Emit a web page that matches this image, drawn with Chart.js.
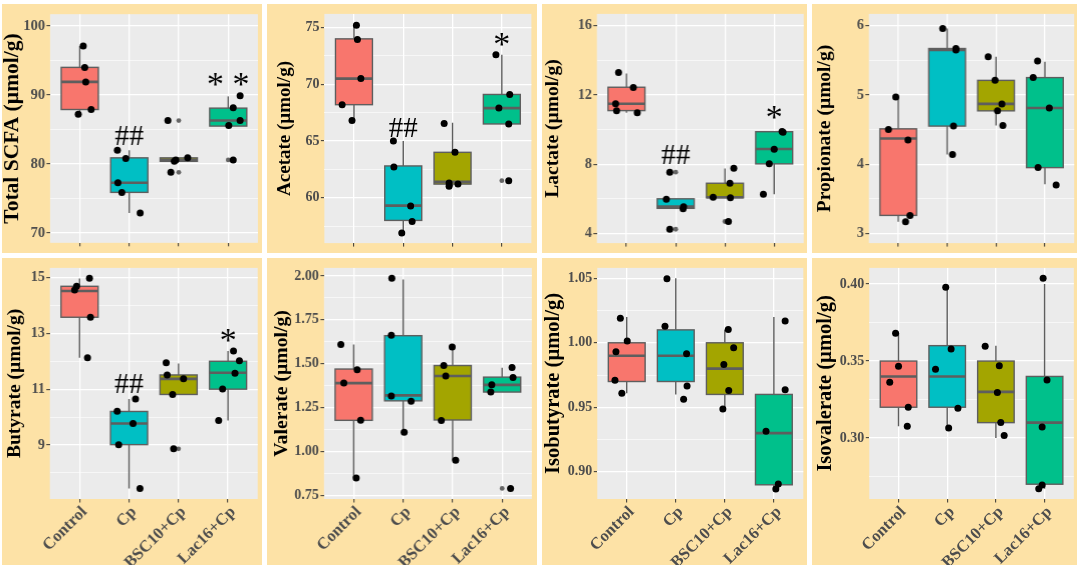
<!DOCTYPE html>
<html lang="en">
<head>
<meta charset="UTF-8">
<title>SCFA boxplots</title>
<script src="https://cdn.jsdelivr.net/npm/chart.js@4.4.1/dist/chart.umd.min.js"></script>
<style>
  body { margin: 0; background: #fff; }
  #fig { position: relative; width: 1084px; height: 570px; background: #fff; overflow: hidden; }
  .panel { position: absolute; background: #fde2a6; }
  .cbox { position: absolute; }
</style>
</head>
<body>
<div id="fig"></div>
<script>
const groups = ['Control', 'Cp', 'BSC10+Cp', 'Lac16+Cp'];
const fills = ['#F8766D', '#00BFC4', '#A3A500', '#00C08B'];

// box stats per group: [lower whisker, q1, median, q3, upper whisker]
// Total SCFA
const scfaTicks = [70, 80, 90, 100];
const scfaRange = [68.6, 101.7];
const scfaPts = [[97.1, 94.0, 91.9, 87.2, 87.9], [82.0, 80.8, 77.3, 75.9, 72.9], [86.3, 78.8, 80.4, 80.9, 80.6], [89.9, 88.15, 86.3, 85.6, 80.6]];
const scfaJit = [[0.07, 0.10, 0.12, -0.03, 0.23], [-0.24, -0.07, -0.23, -0.15, 0.22], [-0.22, -0.16, -0.09, 0.18, -0.06], [0.24, 0.10, 0.24, 0.01, 0.10]];
const scfaBox = [[87.2, 87.9, 91.9, 94.0, 97.1], [72.9, 75.9, 77.3, 80.9, 82.0], [80.4, 80.4, 80.6, 80.9, 80.9], [85.5, 85.5, 86.3, 88.1, 89.8]];
const scfaOut = [[], [], [86.3, 78.8], [80.6]];
const scfaMarks = ['', '##', '', '* *'];
const scfaMarkY = [null, 84.2, null, 92.2];

// Acetate
const acetateTicks = [60, 65, 70, 75];
const acetateRange = [56.0, 76.2];
const acetatePts = [[75.2, 73.95, 70.5, 68.2, 66.8], [65.0, 62.7, 59.27, 57.9, 56.9], [66.55, 64.0, 61.3, 61.0, 61.2], [72.6, 69.1, 67.9, 66.5, 61.5]];
const acetateJit = [[0.05, 0.07, 0.14, -0.24, -0.04], [-0.20, -0.19, 0.15, 0.18, -0.03], [-0.17, 0.05, -0.07, -0.07, 0.11], [-0.12, 0.16, -0.06, 0.14, 0.14]];
const acetateBox = [[66.8, 68.2, 70.5, 74.0, 75.2], [56.9, 58.0, 59.3, 62.8, 65.0], [61.0, 61.2, 61.4, 64.0, 66.6], [66.5, 66.5, 67.9, 69.1, 72.6]];
const acetateOut = [[], [], [], [61.5]];
const acetateMarks = ['', '##', '', '*'];
const acetateMarkY = [null, 66.2, null, 73.9];

// Lactate
const lactateTicks = [4, 8, 12, 16];
const lactateRange = [3.44, 16.69];
const lactatePts = [[13.3, 12.44, 11.5, 11.09, 10.98], [7.54, 5.98, 5.54, 5.43, 4.24], [7.76, 6.9, 6.09, 6.06, 4.69], [9.89, 9.85, 8.87, 8.02, 6.26]];
const lactateJit = [[-0.16, 0.14, -0.22, -0.20, 0.22], [-0.12, -0.19, 0.16, 0.15, -0.12], [0.18, 0.10, -0.24, 0.11, 0.07], [0.16, 0.18, 0.0, -0.10, -0.22]];
const lactateBox = [[10.98, 11.1, 11.5, 12.45, 13.25], [5.45, 5.45, 5.55, 6.0, 6.0], [6.06, 6.06, 6.09, 6.9, 7.75], [6.26, 8.02, 8.88, 9.88, 9.9]];
const lactateOut = [[], [7.54, 4.24], [4.69], []];
const lactateMarks = ['', '##', '', '*'];
const lactateMarkY = [null, 8.55, null, 10.97];

// Propionate
const propionateTicks = [3, 4, 5, 6];
const propionateRange = [2.86, 6.17];
const propionatePts = [[4.97, 4.50, 4.35, 3.26, 3.17], [5.96, 5.65, 5.67, 4.55, 4.14], [5.55, 5.21, 4.87, 4.77, 4.56], [5.49, 5.25, 4.81, 3.95, 3.70]];
const propionateJit = [[-0.05, -0.20, 0.20, 0.24, 0.15], [-0.09, 0.18, 0.18, 0.13, 0.11], [-0.16, -0.02, 0.12, 0.03, 0.14], [-0.15, -0.24, 0.09, -0.14, 0.23]];
const propionateBox = [[3.17, 3.26, 4.37, 4.51, 4.97], [4.14, 4.55, 5.65, 5.67, 5.96], [4.56, 4.77, 4.87, 5.21, 5.55], [3.71, 3.95, 4.81, 5.25, 5.48]];
const propionateOut = [[], [], [], []];

// Butyrate
const butyrateTicks = [9, 11, 13, 15];
const butyrateRange = [7.06, 15.35];
const butyratePts = [[14.98, 14.69, 14.56, 13.58, 12.13], [10.65, 10.21, 9.77, 9.01, 7.44], [11.95, 11.51, 11.37, 10.81, 8.86], [12.37, 12.02, 11.57, 11.01, 9.88]];
const butyrateJit = [[0.20, -0.06, -0.10, 0.22, 0.16], [0.13, -0.24, 0.08, -0.21, 0.22], [-0.25, -0.23, 0.10, -0.12, -0.10], [0.11, 0.23, 0.14, -0.11, -0.19]];
const butyrateBox = [[12.13, 13.58, 14.52, 14.69, 14.97], [7.44, 9.01, 9.77, 10.2, 10.65], [10.81, 10.81, 11.37, 11.51, 11.92], [9.88, 11.0, 11.59, 12.0, 12.37]];
const butyrateOut = [[], [], [8.86], []];
const butyrateMarks = ['', '##', '', '*'];
const butyrateMarkY = [null, 11.19, null, 12.92];

// Valerate
const valerateTicks = [0.75, 1.00, 1.25, 1.50, 1.75, 2.00];
const valerateRange = [0.73, 2.046];
const valeratePts = [[1.61, 1.466, 1.39, 1.178, 0.85], [1.987, 1.662, 1.317, 1.287, 1.11], [1.596, 1.49, 1.43, 1.177, 0.95], [1.479, 1.422, 1.38, 1.339, 0.79]];
const valerateJit = [[-0.26, 0.07, -0.20, 0.14, 0.05], [-0.23, -0.24, -0.24, 0.16, 0.02], [-0.01, -0.18, -0.14, -0.23, 0.06], [0.20, 0.22, -0.21, -0.23, 0.17]];
const valerateBox = [[0.85, 1.178, 1.39, 1.47, 1.61], [1.11, 1.289, 1.32, 1.66, 1.98], [0.95, 1.18, 1.43, 1.49, 1.596], [1.339, 1.339, 1.38, 1.424, 1.477]];
const valerateOut = [[], [], [], [0.79]];

// Isobutyrate
const isobutyrateTicks = [0.90, 0.95, 1.00, 1.05];
const isobutyrateRange = [0.879, 1.058];
const isobutyratePts = [[1.019, 1.0013, 0.993, 0.971, 0.961], [1.0495, 1.0128, 0.9915, 0.9666, 0.9563], [1.0103, 0.9962, 0.9832, 0.963, 0.9487], [1.0168, 0.9636, 0.9314, 0.8907, 0.8867]];
const isobutyrateJit = [[-0.13, 0.01, -0.22, -0.24, -0.10], [-0.18, -0.22, 0.22, 0.23, 0.16], [0.07, 0.18, -0.02, 0.08, -0.04], [0.23, 0.23, -0.16, 0.09, 0.04]];
const isobutyrateBox = [[0.961, 0.97, 0.99, 1.00, 1.02], [0.96, 0.97, 0.99, 1.01, 1.05], [0.949, 0.96, 0.98, 1.00, 1.01], [0.887, 0.89, 0.93, 0.96, 1.02]];
const isobutyrateOut = [[], [], [], []];

// Isovalerate
const isovalerateTicks = [0.30, 0.35, 0.40];
const isovalerateRange = [0.2604, 0.4105];
const isovaleratePts = [[0.368, 0.3467, 0.3362, 0.32, 0.3076], [0.3979, 0.3579, 0.3446, 0.3194, 0.3065], [0.3596, 0.347, 0.3295, 0.3101, 0.3017], [0.4038, 0.3377, 0.3072, 0.2695, 0.267]];
const isovalerateJit = [[-0.06, 0.0, -0.18, 0.20, 0.18], [-0.03, 0.08, -0.24, 0.22, 0.03], [-0.22, 0.07, 0.03, 0.10, 0.17], [-0.03, 0.05, -0.05, -0.05, -0.12]];
const isovalerateBox = [[0.3076, 0.32, 0.34, 0.35, 0.368], [0.307, 0.32, 0.34, 0.36, 0.398], [0.30, 0.31, 0.33, 0.35, 0.36], [0.267, 0.27, 0.31, 0.34, 0.40]];
const isovalerateOut = [[], [], [], []];

const panels = [
  {title: 'Total SCFA (µmol/g)', ticks: scfaTicks, range: scfaRange, pts: scfaPts, jit: scfaJit, box: scfaBox, out: scfaOut, marks: scfaMarks, markY: scfaMarkY, dec: 0},
  {title: 'Acetate (µmol/g)', ticks: acetateTicks, range: acetateRange, pts: acetatePts, jit: acetateJit, box: acetateBox, out: acetateOut, marks: acetateMarks, markY: acetateMarkY, dec: 0},
  {title: 'Lactate (µmol/g)', ticks: lactateTicks, range: lactateRange, pts: lactatePts, jit: lactateJit, box: lactateBox, out: lactateOut, marks: lactateMarks, markY: lactateMarkY, dec: 0},
  {title: 'Propionate (µmol/g)', ticks: propionateTicks, range: propionateRange, pts: propionatePts, jit: propionateJit, box: propionateBox, out: propionateOut, dec: 0},
  {title: 'Butyrate (µmol/g)', ticks: butyrateTicks, range: butyrateRange, pts: butyratePts, jit: butyrateJit, box: butyrateBox, out: butyrateOut, marks: butyrateMarks, markY: butyrateMarkY, dec: 0},
  {title: 'Valerate (µmol/g)', ticks: valerateTicks, range: valerateRange, pts: valeratePts, jit: valerateJit, box: valerateBox, out: valerateOut, dec: 2},
  {title: 'Isobutyrate (µmol/g)', ticks: isobutyrateTicks, range: isobutyrateRange, pts: isobutyratePts, jit: isobutyrateJit, box: isobutyrateBox, out: isobutyrateOut, dec: 2},
  {title: 'Isovalerate (µmol/g)', ticks: isovalerateTicks, range: isovalerateRange, pts: isovaleratePts, jit: isovalerateJit, box: isovalerateBox, out: isovalerateOut, dec: 2}
];

// layout: [panel left, panel right, plot left, plot right] and [panel top, panel bottom, plot top, plot bottom]
const layoutCols = [[2, 262, 50, 257], [267, 537, 324, 531], [542, 807, 597, 803], [812, 1077, 869, 1075]];
const layoutRows = [[4, 253, 7, 245], [258, 565, 262, 499]];
const titleCx = [[13, 285, 553, 825], [15, 282, 553, 825]];
const titleSize = [[21.5, 19, 19.5, 19.5], [19.5, 19.7, 20.5, 20.5]];

const serif = "'Liberation Serif', 'Times New Roman', serif";
const boxLine = '#5e5e5e';

function boxPlugin(p) {
  return {
    id: 'boxes',
    beforeDraw(chart) {
      const {ctx, chartArea: a} = chart;
      ctx.save();
      ctx.fillStyle = '#ebebeb';
      ctx.fillRect(a.left, a.top, a.right - a.left, a.bottom - a.top);
      ctx.restore();
    },
    beforeDatasetsDraw(chart) {
      const {ctx, scales: {x, y}} = chart;
      ctx.save();
      ctx.strokeStyle = boxLine;
      p.box.forEach((b, i) => {
        const [lo, q1, med, q3, hi] = b;
        const cx = x.getPixelForValue(i + 1);
        const hw = x.getPixelForValue(i + 1.375) - cx;
        const top = y.getPixelForValue(q3), bot = y.getPixelForValue(q1);
        ctx.lineWidth = 1.4;
        ctx.beginPath();
        ctx.moveTo(cx, y.getPixelForValue(hi)); ctx.lineTo(cx, top);
        ctx.moveTo(cx, bot); ctx.lineTo(cx, y.getPixelForValue(lo));
        ctx.stroke();
        ctx.fillStyle = fills[i];
        ctx.fillRect(cx - hw, top, 2 * hw, bot - top);
        ctx.strokeRect(cx - hw, top, 2 * hw, bot - top);
        const m = y.getPixelForValue(med);
        ctx.lineWidth = 2.6;
        ctx.beginPath(); ctx.moveTo(cx - hw, m); ctx.lineTo(cx + hw, m); ctx.stroke();
      });
      ctx.restore();
    },
    afterDatasetsDraw(chart) {
      if (!p.marks) return;
      const {ctx, scales: {x, y}} = chart;
      ctx.save();
      ctx.fillStyle = '#000';
      ctx.textAlign = 'center';
      ctx.textBaseline = 'alphabetic';
      p.marks.forEach((m, i) => {
        if (!m) return;
        ctx.font = (m.includes('#') ? 29 : 34) + 'px ' + serif;
        const mt = ctx.measureText(m);
        const cy = y.getPixelForValue(p.markY[i]);
        ctx.fillText(m, x.getPixelForValue(i + 1), cy + (mt.actualBoundingBoxAscent - mt.actualBoundingBoxDescent) / 2);
      });
      ctx.restore();
    }
  };
}

const fig = document.getElementById('fig');

function makeChart(p, r, c) {
  const [pl, pr, xl, xr] = layoutCols[c];
  const [pt, pb, yt, yb] = layoutRows[r];
  const fs = titleSize[r][c];
  const left = titleCx[r][c] - fs * 0.6;

  const panel = document.createElement('div');
  panel.className = 'panel';
  Object.assign(panel.style, {left: pl + 'px', top: pt + 'px', width: (pr - pl) + 'px', height: (pb - pt) + 'px'});
  fig.appendChild(panel);

  const wrap = document.createElement('div');
  wrap.className = 'cbox';
  Object.assign(wrap.style, {left: left + 'px', top: pt + 'px', width: (pr - left) + 'px', height: (pb - pt) + 'px'});
  const canvas = document.createElement('canvas');
  wrap.appendChild(canvas);
  fig.appendChild(wrap);

  const step = p.ticks[1] - p.ticks[0];
  const yTicks = [];
  p.ticks.forEach(t => yTicks.push(t - step / 2, t));
  yTicks.push(p.ticks[p.ticks.length - 1] + step / 2);
  const yVals = yTicks.filter(v => v >= p.range[0] && v <= p.range[1]);
  const isMajor = v => v !== undefined && p.ticks.some(t => Math.abs(t - v) < step * 1e-6);

  new Chart(canvas, {
    type: 'scatter',
    data: {
      datasets: [
        {
          data: p.pts.flatMap((vals, i) => vals.map((v, k) => ({x: i + 1 + p.jit[i][k], y: v}))),
          backgroundColor: '#000', borderWidth: 0, pointRadius: 3.5, pointHoverRadius: 3.5
        },
        {
          data: p.out.flatMap((vals, i) => vals.map(v => ({x: i + 1, y: v}))),
          backgroundColor: '#666', borderWidth: 0, pointRadius: 2.4, pointHoverRadius: 2.4
        }
      ]
    },
    options: {
      responsive: true,
      maintainAspectRatio: false,
      animation: false,
      events: [],
      layout: {padding: {left: 0, top: yt - pt, right: pr - xr, bottom: 0}},
      plugins: {legend: {display: false}, tooltip: {enabled: false}},
      scales: {
        x: {
          type: 'linear', min: 0.4, max: 4.6,
          afterBuildTicks: s => { s.ticks = [1, 2, 3, 4].map(v => ({value: v})); },
          afterFit: s => { s.height = pb - yb; },
          border: {display: false},
          grid: {color: '#fff', lineWidth: 1.3, tickLength: 3.5, tickColor: '#333', tickWidth: 1},
          ticks: {
            display: r === 1, autoSkip: false, minRotation: 45, maxRotation: 45, padding: 0, labelOffset: 5,
            color: '#4d4d4d', font: {family: serif, size: 16.5, weight: 'bold'},
            callback: v => groups[Math.round(v) - 1]
          }
        },
        y: {
          type: 'linear', min: p.range[0], max: p.range[1],
          afterBuildTicks: s => { s.ticks = yVals.map(v => ({value: v})); },
          afterFit: s => { s.width = xl - left; },
          border: {display: false},
          grid: {
            color: '#fff',
            lineWidth: ctx => isMajor(ctx.tick && ctx.tick.value) ? 1.3 : 0.6,
            tickLength: 3.5,
            tickColor: ctx => isMajor(ctx.tick && ctx.tick.value) ? '#333' : 'rgba(0,0,0,0)',
            tickWidth: 1
          },
          ticks: {
            autoSkip: false, padding: 1.5, color: '#4d4d4d',
            font: {family: serif, size: c === 0 && r === 0 ? 14.5 : 14, weight: 'bold'},
            callback: v => isMajor(v) ? v.toFixed(p.dec) : ''
          },
          title: {display: true, text: p.title, color: '#000', padding: 0, font: {family: serif, size: fs, weight: 'bold'}}
        }
      }
    },
    plugins: [boxPlugin(p)]
  });
}

panels.forEach((p, i) => makeChart(p, Math.floor(i / 4), i % 4));
</script>
</body>
</html>
